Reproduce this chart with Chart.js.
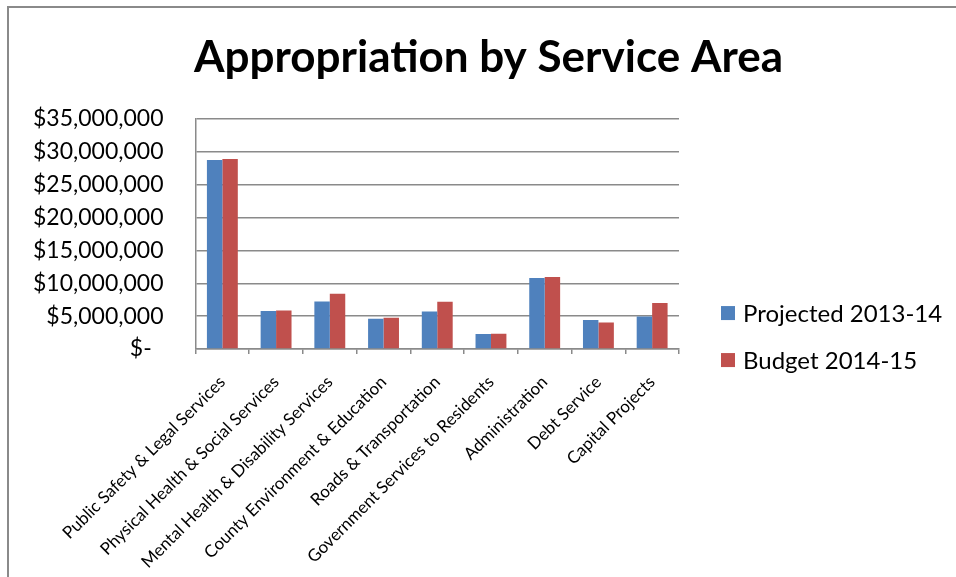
<!DOCTYPE html>
<html>
<head>
<meta charset="utf-8">
<script src="https://cdn.jsdelivr.net/npm/chart.js@4/dist/chart.umd.min.js"></script>
<style>
    html, body { margin: 0; padding: 0; background: #fff; }
    #wrap { width: 956px; height: 577px; }
</style>
</head>
<body>
<div id="wrap"><canvas id="apprChart" width="956" height="577"></canvas></div>
<script>
const serviceAreas = [
    'Public Safety & Legal Services',
    'Physical Health & Social Services',
    'Mental Health & Disability Services',
    'County Environment & Education',
    'Roads & Transportation',
    'Government Services to Residents',
    'Administration',
    'Debt Service',
    'Capital Projects'
];
const projected1314 = [28720000, 5780000, 7240000, 4610000, 5720000, 2280000, 10790000, 4410000, 4960000];
const budget1415 = [28880000, 5880000, 8410000, 4760000, 7190000, 2330000, 10940000, 4050000, 6990000];
const seriesNames = ['Projected 2013-14', 'Budget 2014-15'];
const seriesColors = ['#4F81BD', '#C0504D'];
const yMax = 35000000;
const yStep = 5000000;

const FONT = 'Lato, "Open Sans", sans-serif';
const LEGEND_GAP = 277;   // room kept free right of the plot for the legend

// white background plus the grey frame on the top and left edges
const framePlugin = {
    id: 'frame',
    beforeDraw(chart) {
        const ctx = chart.ctx;
        ctx.save();
        ctx.fillStyle = '#fff';
        ctx.fillRect(0, 0, chart.width, chart.height);
        ctx.strokeStyle = '#8a8a8a';
        ctx.lineWidth = 2;
        ctx.beginPath();
        ctx.moveTo(8, chart.height);
        ctx.lineTo(8, 7);
        ctx.lineTo(chart.width, 7);
        ctx.stroke();
        ctx.restore();
    }
};

// legend to the right of the plot, lower half
const sideLegend = {
    id: 'sideLegend',
    afterDraw(chart) {
        const ctx = chart.ctx;
        const area = chart.chartArea;
        const x = area.right + 42;
        let y = area.bottom - 36;
        ctx.save();
        ctx.font = '24px ' + FONT;
        ctx.textBaseline = 'middle';
        ctx.textAlign = 'left';
        chart.data.datasets.forEach((ds) => {
            ctx.fillStyle = ds.backgroundColor;
            ctx.fillRect(x, y - 7, 14, 14);
            ctx.fillStyle = '#000';
            ctx.fillText(ds.label, x + 22, y + 1);
            y += 47;
        });
        ctx.restore();
    }
};

function money(v) {
    if (v === 0) return '$-  ';
    return '$' + v.toLocaleString('en-US');
}

function load_chart() {
    const canvas = document.getElementById('apprChart');
    const data = {
        labels: serviceAreas,
        datasets: [{
            label: seriesNames[0],
            data: projected1314,
            backgroundColor: seriesColors[0],
            categoryPercentage: 0.575,
            barPercentage: 1
        }, {
            label: seriesNames[1],
            data: budget1415,
            backgroundColor: seriesColors[1],
            categoryPercentage: 0.575,
            barPercentage: 1
        }]
    };
    const config = {
        type: 'bar',
        data: data,
        plugins: [framePlugin, sideLegend],
        options: {
            responsive: false,
            animation: false,
            layout: { padding: { left: 33, right: 12, top: 10, bottom: 0 } },
            plugins: {
                title: {
                    display: true,
                    text: 'Appropriation by Service Area',
                    color: '#000',
                    font: { family: FONT, size: 44, weight: 'bold' },
                    padding: { top: 21, bottom: 35 }
                },
                legend: { display: false },
                tooltip: { enabled: false }
            },
            scales: {
                x: {
                    grid: { display: true, drawOnChartArea: false, offset: true, color: '#8a8a8a', lineWidth: 1.5, tickLength: 5 },
                    border: { color: '#8a8a8a', width: 1.5 },
                    ticks: {
                        color: '#000',
                        font: { family: FONT, size: 17 },
                        minRotation: 45,
                        maxRotation: 45,
                        autoSkip: false,
                        padding: 18
                    },
                    afterFit(scale) {
                        // let the long first label hang left, keep the right side for the legend
                        scale.paddingLeft = 0;
                        scale.paddingRight = LEGEND_GAP;
                        // the rotated labels need less height than estimated
                        scale.height -= 13;
                    }
                },
                y: {
                    min: 0,
                    max: yMax,
                    grid: { color: '#8a8a8a', lineWidth: 1.5, drawTicks: false },
                    border: { color: '#8a8a8a', width: 1.5 },
                    ticks: {
                        stepSize: yStep,
                        autoSkip: false,
                        color: '#000',
                        font: { family: FONT, size: 23 },
                        padding: 32,
                        callback: (v) => money(v)
                    },
                    afterFit(scale) {
                        // only one gap between the labels and the axis line
                        scale.width -= scale.options.ticks.padding;
                    }
                }
            }
        }
    };
    new Chart(canvas, config);
}

document.addEventListener('DOMContentLoaded', () => {
    load_chart();
});
</script>
</body>
</html>
